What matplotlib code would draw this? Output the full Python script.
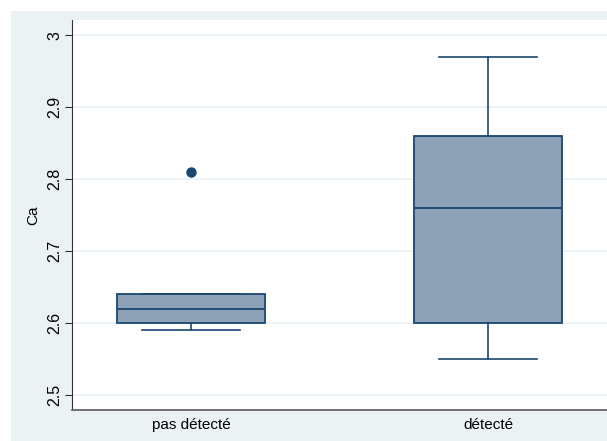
import matplotlib.pyplot as plt
from matplotlib.patches import Rectangle

plt.rcParams["font.family"] = ["Liberation Sans", "DejaVu Sans"]

# Box summary values
groups = ["pas détecté", "détecté"]
whislo = [2.59, 2.55]
q1 = [2.60, 2.60]
med = [2.62, 2.76]
q3 = [2.64, 2.86]
whishi = [2.64, 2.97]
fliers = [[2.81], []]

navy = "#1a476f"
fill = "#8da2b6"
bg = "#eaf2f3"

stats = []
for i, g in enumerate(groups):
    stats.append({"label": g, "whislo": whislo[i], "q1": q1[i], "med": med[i],
                  "q3": q3[i], "whishi": whishi[i], "fliers": fliers[i]})

fig = plt.figure(figsize=(6.07, 4.41), dpi=100)
fig.patches.append(Rectangle((11 / 607, 0), 1, 430 / 441, transform=fig.transFigure,
                             facecolor=bg, edgecolor="none", zorder=-10))

ax = fig.add_axes([72 / 607, 31 / 441, 1 - 72 / 607, 390 / 441])
ax.set_zorder(5)
ax.set_facecolor("white")
ax.bxp(stats, positions=[0, 1], widths=0.5, patch_artist=True,
       boxprops=dict(facecolor=fill, edgecolor=navy, linewidth=1.3),
       medianprops=dict(color=navy, linewidth=1.3),
       whiskerprops=dict(color=navy, linewidth=1.2),
       capprops=dict(color=navy, linewidth=1.2),
       flierprops=dict(marker="o", markerfacecolor=navy, markeredgecolor=navy,
                       markersize=6.5),
       capwidths=0.33)

ax.set_xlim(-0.4, 1.4)
ax.set_ylim(2.479, 3.021)
ax.set_yticks([2.5, 2.6, 2.7, 2.8, 2.9, 3.0])
ax.set_yticklabels(["2.5", "2.6", "2.7", "2.8", "2.9", "3"], rotation=90, va="center")
ax.tick_params(axis="y", labelsize=11.5, length=5, color="#333333", pad=2)
ax.tick_params(axis="x", labelsize=11, length=0, pad=6)
ax.set_ylabel("Ca", fontsize=11, labelpad=5)

ax.grid(axis="y", color=bg, linewidth=1.2)
ax.set_axisbelow(True)
for s in ["top", "right"]:
    ax.spines[s].set_visible(False)
ax.spines["left"].set_color("#333333")
ax.spines["bottom"].set_color("#666666")
ax.spines["bottom"].set_linewidth(1.3)

fig.savefig("out.png", dpi=100)
